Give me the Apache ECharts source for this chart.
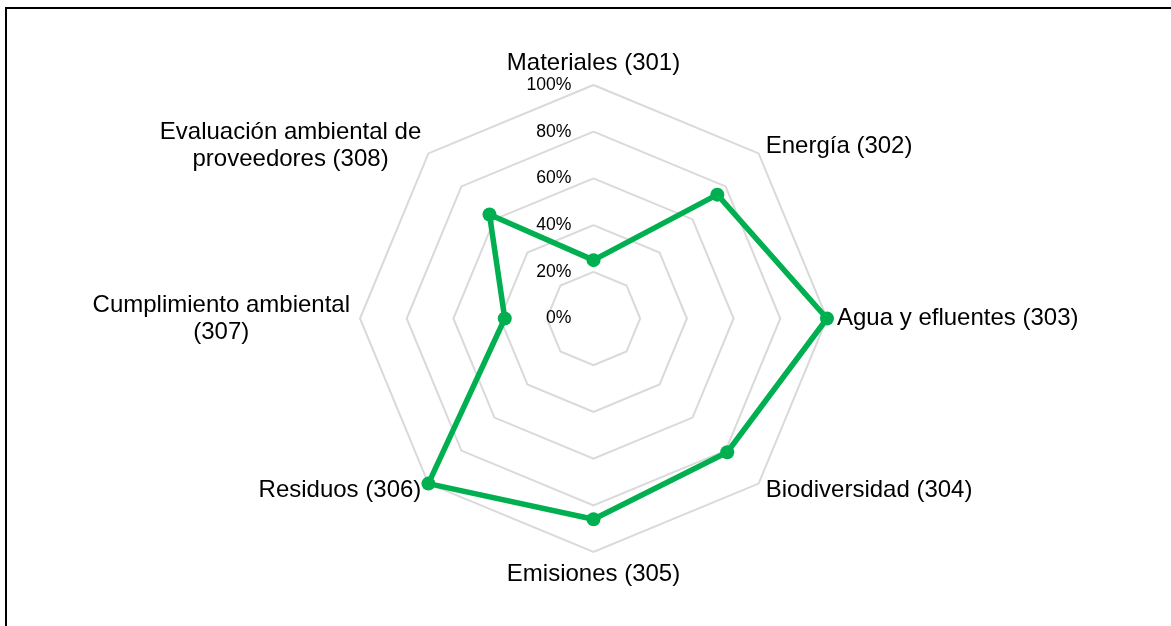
<!DOCTYPE html>
<html>
<head>
<meta charset="utf-8">
<script src="https://cdn.jsdelivr.net/npm/echarts@6/dist/echarts.min.js"></script>
<style>
  html, body { margin: 0; padding: 0; background: #fff; overflow: hidden; }
  #chart { position: absolute; left: 0; top: 0; width: 1171px; height: 626px; }
  #frame {
    position: absolute; left: 5px; top: 7px; width: 1300px; height: 800px;
    border-left: 2px solid #000; border-top: 2px solid #000; pointer-events: none;
  }
</style>
</head>
<body>
<div id="chart"></div>
<div id="frame"></div>
<script>
// categories (GRI 300 topics) clockwise from the top, and their values
const categories = [
  'Materiales (301)',
  'Energía (302)',
  'Agua y efluentes (303)',
  'Biodiversidad (304)',
  'Emisiones (305)',
  'Residuos (306)',
  'Cumplimiento ambiental\n(307)',
  'Evaluación ambiental de\nproveedores (308)'
]
const values = [0.25, 0.75, 1.0, 0.81, 0.86, 1.0, 0.38, 0.63]

const font = 'Liberation Sans, Arial, sans-serif'
const center = [593.5, 318.5]
const radius = 233.5

// echarts radar runs counter-clockwise, so keep the first item and reverse the rest
const order = [0].concat(categories.map((c, i) => i).slice(1).reverse())

const chart = echarts.init(document.getElementById('chart'))

const option = {
  animation: false,
  radar: [
    {
      // main web
      center: center,
      radius: radius,
      startAngle: 90,
      shape: 'polygon',
      splitNumber: 5,
      indicator: order.map(i => ({ name: categories[i], min: 0, max: 1 })),
      axisName: {
        color: '#000',
        fontSize: 24,
        fontFamily: font,
        formatter: function (name) {
          if (name.indexOf('\n') < 0) return name
          return name.split('\n').map(s => '{c|' + s + '}').join('\n')
        },
        rich: {
          c: { align: 'center', fontSize: 24, fontFamily: font, color: '#000', lineHeight: 27 }
        }
      },
      nameGap: 10,
      axisLine: { show: false },
      axisTick: { show: false },
      axisLabel: { show: false },
      splitArea: { show: false },
      splitLine: { lineStyle: { color: '#d9d9d9', width: 2 } }
    },
    {
      // single axis only used for the percentage labels
      center: center,
      radius: radius,
      startAngle: 90,
      splitNumber: 5,
      indicator: [{ name: '', min: 0, max: 1 }],
      axisName: { show: false },
      axisLine: { show: false },
      axisTick: { show: false },
      splitArea: { show: false },
      splitLine: { show: false },
      axisLabel: {
        show: true,
        color: '#000',
        fontSize: 17.6,
        fontFamily: font,
        margin: 22,
        formatter: v => Math.round(v * 100) + '%'
      }
    }
  ],
  series: [
    {
      type: 'radar',
      radarIndex: 0,
      symbol: 'circle',
      symbolSize: 14,
      lineStyle: { color: '#00b050', width: 5.5 },
      itemStyle: { color: '#00b050' },
      data: [{ value: order.map(i => values[i]), name: 'GRI 300' }]
    }
  ]
}

chart.setOption(option)
</script>
</body>
</html>
